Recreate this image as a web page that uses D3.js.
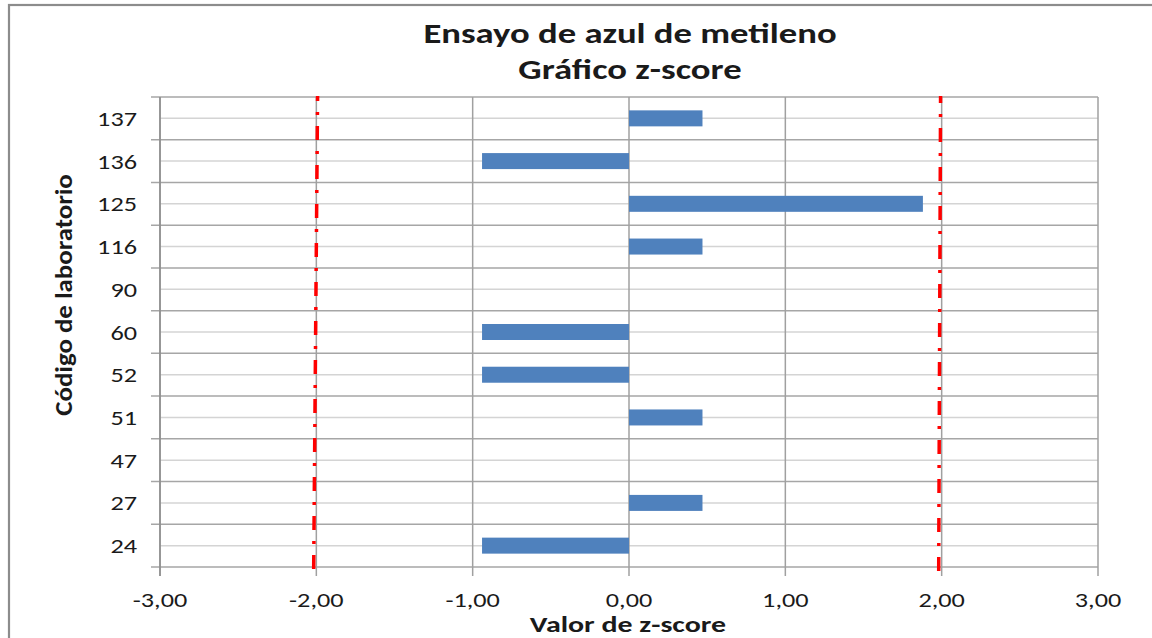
<!DOCTYPE html>
<html><head><meta charset="utf-8">
<script src="https://cdn.jsdelivr.net/npm/d3@7"></script>
<style>
html,body{margin:0;padding:0;background:#fff;}
svg{display:block;}
text{font-family:Carlito, Calibri, Lato, "Open Sans", sans-serif;fill:#1a1a1a;}
</style></head>
<body>
<svg id="chart" width="1152" height="638"></svg>
<script>
const categories = ["137","136","125","116","90","60","52","51","47","27","24"];
const zscores = [0.47,-0.94,1.88,0.47,0,-0.94,-0.94,0.47,0,0.47,-0.94];
const xTicks = [-3,-2,-1,0,1,2,3];
const lowerLimit = [-1.992,-2.017]; // top, bottom
const upperLimit = [1.993,1.981];
const titleLines = ["Ensayo de azul de metileno","Gráfico z-score"];
const xTitle = "Valor de z-score";
const yTitle = "Código de laboratorio";

const svg = d3.select("#chart");
const m = {left:160, right:1098, top:97, bottom:567};

svg.append("rect").attr("x",9).attr("y",5).attr("width",1170).attr("height",660)
  .attr("fill","#fff").attr("stroke","#8c8c8c").attr("stroke-width",2.2);

const x = d3.scaleLinear().domain([-3,3]).range([m.left,m.right]);
const y = d3.scaleBand().domain(categories).range([m.top,m.bottom]);
const bw = y.bandwidth();

const fmt = v => d3.format(".2f")(v).replace(".",",").replace("−","-");

// minor gridlines at band centers
svg.append("g").selectAll("line").data(categories).join("line")
  .attr("x1",m.left).attr("x2",m.right)
  .attr("y1",d=>y(d)+bw/2).attr("y2",d=>y(d)+bw/2)
  .attr("stroke","#d4d4d4").attr("stroke-width",1.5);

// major gridlines at band boundaries
const bounds = categories.map(d=>y(d)).concat([m.bottom]);
svg.append("g").selectAll("line").data(bounds).join("line")
  .attr("x1",m.left-9).attr("x2",m.right)
  .attr("y1",d=>d).attr("y2",d=>d)
  .attr("stroke","#a6a6a6").attr("stroke-width",1.5);

// vertical gridlines
svg.append("g").selectAll("line").data(xTicks).join("line")
  .attr("x1",d=>x(d)).attr("x2",d=>x(d))
  .attr("y1",m.top).attr("y2",m.bottom+9)
  .attr("stroke","#a0a0a0").attr("stroke-width",1.5);

// bars
svg.append("g").selectAll("rect").data(categories).join("rect")
  .attr("x",(d,i)=>x(Math.min(0,zscores[i])))
  .attr("width",(d,i)=>Math.abs(x(zscores[i])-x(0)))
  .attr("y",d=>y(d)+bw/2-8)
  .attr("height",16)
  .attr("fill","#4f81bd");

// left axis line
svg.append("line").attr("x1",m.left).attr("x2",m.left).attr("y1",m.top).attr("y2",m.bottom+9)
  .attr("stroke","#8c8c8c").attr("stroke-width",1.5);

// limit lines
const line = d3.line().x(d=>x(d[0])).y(d=>d[1]);
[[lowerLimit,569],[upperLimit,571]].forEach(([lim,yb])=>{
  svg.append("path").datum([[lim[1],yb],[lim[0],96]])
    .attr("d",line).attr("fill","none").attr("stroke","#ff0000")
    .attr("stroke-width",3.5).attr("stroke-dasharray","14,11,3,11");
});

// y tick labels
svg.append("g").selectAll("text").data(categories).join("text")
  .attr("transform",d=>`translate(137,${y(d)+bw/2}) scale(1.25,1)`)
  .attr("dy","0.36em")
  .attr("text-anchor","end").attr("font-size",21).text(d=>d);

// x tick labels
svg.append("g").selectAll("text").data(xTicks).join("text")
  .attr("transform",d=>`translate(${x(d)},607) scale(1.25,1)`)
  .attr("text-anchor","middle").attr("font-size",21).text(d=>fmt(d));

// titles
svg.append("g").selectAll("text").data(titleLines).join("text")
  .attr("transform",(d,i)=>`translate(630,${43+i*36}) scale(1.31,1)`)
  .attr("text-anchor","middle").attr("font-size",28).attr("font-weight","bold").text(d=>d);

svg.append("text").attr("transform","translate(628,632) scale(1.36,1)").attr("text-anchor","middle")
  .attr("font-size",22).attr("font-weight","bold").text(xTitle);

svg.append("text").attr("transform","translate(72,295) rotate(-90) scale(1.12,1)")
  .attr("text-anchor","middle").attr("font-size",24).attr("font-weight","bold").text(yTitle);
</script>
</body></html>
